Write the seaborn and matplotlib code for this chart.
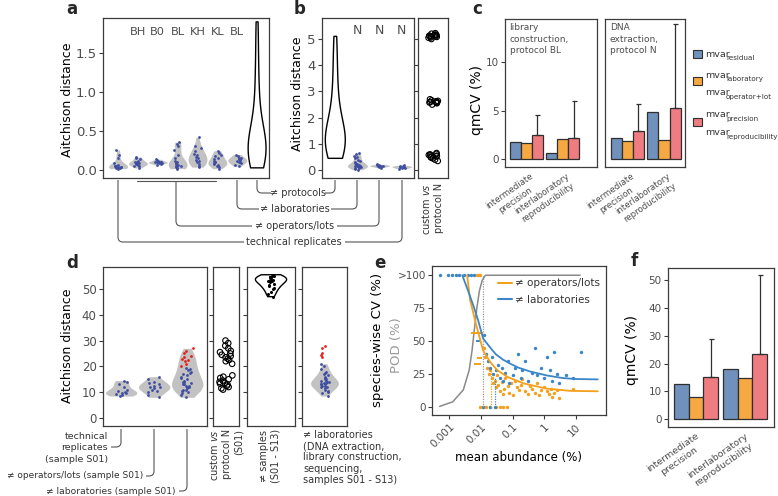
import numpy as np
import pandas as pd
import matplotlib
matplotlib.use("Agg")
import matplotlib.pyplot as plt
import matplotlib.transforms as mtransforms
import seaborn as sns
from matplotlib.path import Path
from matplotlib.patches import PathPatch, Rectangle
from matplotlib.lines import Line2D

# ---------------- data ----------------
# panel a : Aitchison distance (library construction)
a_order = ["tech", "BH", "B0", "BL", "KH", "KL", "BL_lab", "protocols"]
a_top_labels = ["", "BH", "B0", "BL", "KH", "KL", "BL", ""]
a_tech = [0.02, 0.03, 0.03, 0.04, 0.04, 0.04, 0.05, 0.05, 0.06, 0.07, 0.09, 0.16, 0.2, 0.26]
a_BH = [0.03, 0.05, 0.06, 0.07, 0.08, 0.08, 0.09, 0.09, 0.1, 0.11, 0.12, 0.14, 0.16, 0.17]
a_B0 = [0.07, 0.08, 0.09, 0.09, 0.1, 0.1, 0.1, 0.11, 0.11, 0.12, 0.13, 0.14]
a_BL = [0.02, 0.03, 0.04, 0.05, 0.05, 0.06, 0.07, 0.08, 0.09, 0.1, 0.12, 0.15, 0.19, 0.26, 0.31, 0.34, 0.36]
a_KH = [0.04, 0.06, 0.08, 0.1, 0.12, 0.13, 0.15, 0.17, 0.19, 0.21, 0.24, 0.28, 0.31, 0.42]
a_KL = [0.02, 0.04, 0.06, 0.07, 0.08, 0.09, 0.1, 0.11, 0.12, 0.14, 0.16, 0.18, 0.2, 0.22, 0.25]
a_BL_lab = [0.05, 0.07, 0.09, 0.1, 0.11, 0.12, 0.13, 0.14, 0.15, 0.16, 0.18, 0.2]
a_protocols = [0.03, 0.08, 0.12, 0.15, 0.18, 0.2, 0.22, 0.24, 0.26, 0.28, 0.3, 0.33, 0.36,
               0.4, 0.45, 0.5, 0.6, 0.75, 0.9, 1.1, 1.3, 1.6, 1.9]

# panel b : Aitchison distance (DNA extraction)
b_order = ["protocols", "labs_N", "ops_N", "tech_N"]
b_top_labels = ["", "N", "N", "N"]
b_protocols = [0.45, 0.6, 0.75, 0.85, 0.95, 1.0, 1.05, 1.1, 1.2, 1.3, 1.45, 1.6, 1.8, 2.1,
               2.5, 3.0, 3.6, 4.3, 5.1]
b_labs_N = [0.02, 0.05, 0.08, 0.1, 0.12, 0.13, 0.14, 0.15, 0.15, 0.16, 0.17, 0.18, 0.2, 0.22,
            0.25, 0.28, 0.3, 0.35, 0.4, 0.45, 0.5, 0.55, 0.6, 0.65]
b_ops_N = [0.1, 0.13, 0.15, 0.16, 0.17, 0.18, 0.2, 0.22]
b_tech_N = [0.05, 0.08, 0.1, 0.12, 0.13, 0.14, 0.16, 0.18]
custom_vs_N = [5.0, 5.05, 5.08, 5.1, 5.1, 5.12, 5.14, 5.15, 5.17, 5.2, 5.22, 5.12, 5.06,
               2.5, 2.55, 2.58, 2.6, 2.62, 2.64, 2.66, 2.7, 2.6, 2.57,
               0.35, 0.4, 0.45, 0.5, 0.52, 0.55, 0.58, 0.6, 0.62, 0.65, 0.48, 0.56]

# panel c : qmCV (%)
c_groups = ["intermediate\nprecision", "interlaboratory\nreproducibility"]
c_components = ["residual", "lab_oplot", "prec_repro"]
c_BL_residual = [1.8, 0.6]
c_BL_lab_oplot = [1.65, 2.1]
c_BL_prec_repro = [2.45, 2.2]
c_BL_upper = [4.5, 6.0]
c_N_residual = [2.15, 4.9]
c_N_lab_oplot = [1.85, 1.95]
c_N_prec_repro = [2.85, 5.3]
c_N_upper = [5.7, 13.9]

# panel d : Aitchison distance (mock / samples)
d_order = ["tech_S01", "ops_S01", "labs_S01"]
d_tech_S01 = [8.5, 9.0, 9.2, 9.5, 9.7, 10.0, 10.5, 11.0, 12.0, 13.0, 14.0, 14.5]
d_ops_S01 = [8.0, 9.0, 10.0, 10.5, 11.0, 11.5, 12.0, 12.0, 12.5, 13.0, 13.5, 14.0, 15.0, 16.0]
d_labs_S01 = [8.0, 9.0, 9.5, 10.0, 10.5, 11.0, 11.0, 11.5, 12.0, 12.0, 12.5, 12.5, 13.0, 13.0,
              13.5, 14.0, 14.0, 14.5, 15.0, 15.5, 16.0, 16.5, 17.0, 17.5, 18.0, 18.5, 19.0, 19.5]
d_labs_S01_out = [20.0, 21.0, 22.0, 22.5, 23.0, 23.5, 24.0, 25.0, 26.0, 27.0]
d_custom = [11.0, 11.5, 12.0, 12.5, 13.0, 13.3, 13.6, 14.0, 14.5, 15.0, 15.5, 16.0, 16.5,
            21.0, 22.0, 22.5, 23.0, 23.5, 24.0, 24.5, 25.0, 25.5, 26.0, 27.0, 28.0, 29.0, 30.0]
d_samples = [47.0, 48.0, 49.0, 50.0, 50.5, 51.0, 51.5, 52.0, 52.5, 53.0, 53.0, 53.5, 53.5,
             54.0, 54.0, 54.5, 54.5, 55.0, 55.0, 55.5]
d_labs_all = [8.5, 9.5, 10.0, 10.5, 11.0, 11.5, 12.0, 12.0, 12.5, 12.5, 13.0, 13.0, 13.0, 13.5,
              13.5, 14.0, 14.0, 14.5, 14.5, 15.0, 15.0, 15.5, 16.0, 16.5, 17.0, 17.5, 18.0,
              19.0, 20.0, 21.0]
d_labs_all_out = [23.5, 24.5, 25.0, 27.0, 28.0]

# panel e : species-wise CV vs mean abundance
e_ops_x = [0.0075, 0.0085, 0.0095, 0.013, 0.014, 0.016, 0.018, 0.02, 0.022, 0.025, 0.028, 0.03,
           0.033, 0.036, 0.04, 0.045, 0.05, 0.055, 0.06, 0.07, 0.08, 0.09, 0.1, 0.12, 0.14,
           0.16, 0.18, 0.2, 0.25, 0.3, 0.35, 0.4, 0.5, 0.6, 0.7, 0.8, 1.0, 1.2, 1.4, 1.6, 1.8,
           2.0, 2.5, 3.0, 8.0, 0.0095, 0.012, 0.015, 0.02, 0.03, 0.04, 0.05, 0.065]
e_ops_y = [100, 100, 100, 45, 38, 30, 25, 28, 22, 18, 20, 15, 24, 17, 12, 19, 10, 14, 22, 16,
           11, 18, 9, 20, 15, 13, 17, 21, 12, 10, 16, 14, 11, 18, 9, 13, 15, 12, 10, 14, 8, 11,
           13, 7, 14, 0, 0, 0, 0, 0, 0, 0, 0]
e_labs_x = [0.0005, 0.0009, 0.0012, 0.0016, 0.002, 0.003, 0.004, 0.005, 0.006, 0.013, 0.015,
            0.017, 0.02, 0.022, 0.025, 0.03, 0.035, 0.04, 0.045, 0.05, 0.06, 0.07, 0.08, 0.1,
            0.12, 0.15, 0.18, 0.2, 0.25, 0.3, 0.4, 0.5, 0.6, 0.8, 1.0, 1.2, 1.5, 1.8, 2.0, 2.5,
            3.0, 5.0, 8.0, 14.0, 0.012, 0.02, 0.028]
e_labs_y = [100, 100, 100, 100, 100, 100, 100, 100, 100, 55, 40, 35, 30, 38, 25, 28, 32, 22,
            30, 20, 26, 35, 18, 24, 30, 40, 22, 28, 35, 20, 26, 45, 24, 30, 22, 38, 28, 20, 42,
            25, 18, 24, 22, 42, 0, 0, 0]
e_ops_fit_x = [0.0037, 0.0046, 0.0076, 0.0118, 0.02, 0.033, 0.068, 0.22, 1.2, 6.7, 49]
e_ops_fit_y = [100, 81, 60, 43, 34, 28, 23, 18, 14, 12.3, 12]
e_labs_fit_x = [0.0026, 0.004, 0.006, 0.0082, 0.0118, 0.02, 0.03, 0.05, 0.084, 0.15, 0.36,
                1.2, 3.9, 10, 49]
e_labs_fit_y = [100, 88, 76, 66, 52, 45, 40, 36, 33, 30, 27, 24, 22, 21.3, 21]
e_pod_x = [0.0005, 0.0013, 0.0028, 0.0043, 0.0053, 0.0062, 0.0075, 0.009, 0.011, 0.014, 13.5]
e_pod_y = [0.5, 4, 13, 28, 43, 58, 75, 88, 96, 100, 100]
e_ops_seg_x0 = [0.0049, 0.0075, 0.0062]
e_ops_seg_x1 = [0.012, 0.011, 0.0098]
e_ops_seg_y = [56, 37, 33]
e_labs_seg_x0 = [0.0068]
e_labs_seg_x1 = [0.0105]
e_labs_seg_y = [50]
e_lod_x = [0.0115, 0.021, 0.028]
e_lod_top = [100, 28, 22]
e_xticks = [0.001, 0.01, 0.1, 1, 10]
e_xticklabels = ["0.001", "0.01", "0.1", "1", "10"]
e_yticks = [0, 25, 50, 75, 100]
e_yticklabels = ["0", "25", "50", "75", ">100"]

# panel f : qmCV (%)
f_residual = [12.7, 18.1]
f_lab_oplot = [8.1, 14.9]
f_prec_repro = [15.1, 23.5]
f_upper = [29.0, 52.0]

# ---------------- style ----------------
NAVY = "#3E4DA0"
VGREY = "#C2C2C2"
RED = "#E2231A"
EDGE = "#3C3C3C"
TICKC = "#4D4D4D"
TXT = "#333333"
BAR_COLORS = ["#7091BC", "#F6A843", "#EF7C80"]
ORANGE = "#F5A01A"
BLUE = "#3A86C8"

sns.set_theme(style="white")
plt.rcParams["font.family"] = ["DejaVu Sans"]
plt.rcParams["mathtext.fontset"] = "dejavusans"

W, H = 778, 496
fig = plt.figure(figsize=(W / 100, H / 100), dpi=100)


def add_ax(x0, y0, x1, y1):
    return fig.add_axes([x0 / W, 1 - y1 / H, (x1 - x0) / W, (y1 - y0) / H])


def style(ax, ylim, yticks, yticklabels=None, size=8, labels=True, xlim=None):
    ax.set_ylim(ylim)
    ax.set_yticks(yticks)
    if yticklabels is not None:
        ax.set_yticklabels(yticklabels)
    if xlim is not None:
        ax.set_xlim(xlim)
    for s in ax.spines.values():
        s.set_visible(True)
        s.set_color(EDGE)
        s.set_linewidth(0.9)
    ax.tick_params(axis="y", left=True, length=3, width=0.8, color=EDGE, labelsize=size,
                   labelcolor=TICKC, pad=1.5, labelleft=labels)
    ax.tick_params(axis="x", bottom=False, labelbottom=False)
    ax.set_xlabel("")
    ax.set_ylabel("")


def long_df(order, lists):
    return pd.DataFrame({"grp": sum([[g] * len(v) for g, v in zip(order, lists)], []),
                         "val": np.concatenate([np.asarray(v, float) for v in lists])})


def shift_labels(labels, dx_px, dy_px=0):
    off = mtransforms.ScaledTranslation(dx_px / 100, -dy_px / 100, fig.dpi_scale_trans)
    for lab in labels:
        lab.set_transform(lab.get_transform() + off)


# overlay for annotations (pixel coordinates)
ov = fig.add_axes([0, 0, 1, 1], zorder=5)
ov.set_xlim(0, W)
ov.set_ylim(H, 0)
ov.axis("off")


def rpath(pts, r=5, color="#555555", lw=0.8):
    pts = np.asarray(pts, float)
    verts = [pts[0]]
    codes = [Path.MOVETO]
    for i in range(1, len(pts) - 1):
        p0, p1, p2 = pts[i - 1], pts[i], pts[i + 1]
        d1 = (p1 - p0) / np.linalg.norm(p1 - p0)
        d2 = (p2 - p1) / np.linalg.norm(p2 - p1)
        verts += [p1 - d1 * r, p1, p1 + d2 * r]
        codes += [Path.LINETO, Path.CURVE3, Path.CURVE3]
    verts.append(pts[-1])
    codes.append(Path.LINETO)
    ov.add_patch(PathPatch(Path(verts, codes), fill=False, edgecolor=color, lw=lw))


np.random.seed(3)

# ---------------- panel a ----------------
ax = add_ax(103, 18, 269, 178)
a_vals = [a_tech, a_BH, a_B0, a_BL, a_KH, a_KL, a_BL_lab, a_protocols]
df_a = long_df(a_order, a_vals)
grey_a = df_a[df_a.grp != "protocols"]
sns.violinplot(data=grey_a, x="grp", y="val", order=a_order, color=VGREY, saturation=1,
               linewidth=0, inner=None, cut=0, density_norm="width", width=0.95, ax=ax)
sns.violinplot(data=df_a[df_a.grp == "protocols"], x="grp", y="val", order=a_order, fill=False,
               color="black", linecolor="black", linewidth=1, inner=None, cut=0, width=0.9, ax=ax)
sns.stripplot(data=grey_a, x="grp", y="val", order=a_order, color=NAVY, size=2, jitter=0.2, ax=ax)
style(ax, (-0.1, 1.95), [0, 0.5, 1, 1.5], ["0.0", "0.5", "1.0", "1.5"], size=9.5,
      xlim=(-0.76, 7.6))
for i, lab in enumerate(a_top_labels):
    ax.text(i, 1.77, lab, ha="center", va="center", fontsize=8.2, color=TICKC)

# ---------------- panel b ----------------
ax = add_ax(322, 18, 414, 178)
b_vals = [b_protocols, b_labs_N, b_ops_N, b_tech_N]
df_b = long_df(b_order, b_vals)
grey_b = df_b[df_b.grp != "protocols"]
sns.violinplot(data=grey_b, x="grp", y="val", order=b_order, color=VGREY, saturation=1,
               linewidth=0, inner=None, cut=0, density_norm="width", width=0.9, ax=ax)
sns.violinplot(data=df_b[df_b.grp == "protocols"], x="grp", y="val", order=b_order, fill=False,
               color="black", linecolor="black", linewidth=1, inner=None, cut=0, width=0.9, ax=ax)
sns.stripplot(data=grey_b, x="grp", y="val", order=b_order, color=NAVY, size=2, jitter=0.15, ax=ax)
style(ax, (-0.3, 5.8), [0, 1, 2, 3, 4, 5], size=9.5, xlim=(-0.6, 3.55))
for i, lab in enumerate(b_top_labels):
    ax.text(i, 5.34, lab, ha="center", va="center", fontsize=9, color=TICKC)

# custom vs protocol N (top)
ax = add_ax(418, 18, 448, 178)
sns.stripplot(x=np.zeros(len(custom_vs_N)), y=custom_vs_N, orient="v", facecolor="none",
              edgecolor="black", linewidth=0.8, size=4, jitter=0.17, ax=ax, native_scale=True)
style(ax, (-0.3, 5.8), [0, 1, 2, 3, 4, 5], labels=False, xlim=(-0.5, 0.5))


# ---------------- panel c ----------------
def bar_panel(ax, res, lab, prec, upper, ylim, yticks, size, labels=True, xlim=None,
              xsize=6.2, dx=0):
    df = pd.DataFrame({"grp": c_groups * 3,
                       "comp": sum([[c] * 2 for c in c_components], []),
                       "val": list(res) + list(lab) + list(prec)})
    sns.barplot(data=df, x="grp", y="val", hue="comp", hue_order=c_components,
                palette=BAR_COLORS, saturation=1, edgecolor="#2F2F2F", linewidth=0.9,
                errorbar=None, legend=False, width=0.9, ax=ax)
    red = ax.containers[2]
    xs = [p.get_x() + p.get_width() / 2 for p in red]
    ax.errorbar(xs, prec, yerr=[np.zeros(len(prec)), np.asarray(upper) - np.asarray(prec)],
                fmt="none", ecolor="#2F2F2F", elinewidth=0.9, capsize=1.8, capthick=0.9)
    style(ax, ylim, yticks, size=size, labels=labels, xlim=xlim)
    if not labels:
        ax.tick_params(axis="y", left=False)
    ax.set_xticks([0, 1])
    ax.set_xticklabels(c_groups, rotation=35, ha="right", va="center", rotation_mode="anchor",
                       fontsize=xsize, color=TICKC, multialignment="center")
    ax.tick_params(axis="x", bottom=False, labelbottom=True, pad=3)
    shift_labels(ax.get_xticklabels(), dx)


ax = add_ax(505, 19, 597, 167)
bar_panel(ax, c_BL_residual, c_BL_lab_oplot, c_BL_prec_repro, c_BL_upper, (-0.8, 14.4),
          [0, 5, 10], 7.5, xlim=(-0.6, 1.95), dx=9)
ax.text(0.05, 0.97, "library\nconstruction,\nprotocol BL", transform=ax.transAxes, ha="left",
        va="top", fontsize=6.5, color=TICKC, linespacing=1.35)
ax = add_ax(605, 19, 685, 167)
bar_panel(ax, c_N_residual, c_N_lab_oplot, c_N_prec_repro, c_N_upper, (-0.8, 14.4),
          [0, 5, 10], 7.5, labels=False, xlim=(-0.6, 1.57), dx=9)
ax.text(0.06, 0.97, "DNA\nextraction,\nprotocol N", transform=ax.transAxes, ha="left",
        va="top", fontsize=6.5, color=TICKC, linespacing=1.35)

# legend of c (patches + labels)
for (yc, col) in zip([53.5, 81, 122], BAR_COLORS):
    ov.add_patch(Rectangle((693, yc - 4), 9, 8, facecolor=col, edgecolor="#2F2F2F", lw=0.8))
for yb, sub in [(57, "residual"), (78, "laboratory"), (95, "operator+lot"),
                (117, "precision"), (135, "reproducibility")]:
    ov.text(705, yb, "mvar", fontsize=6.8, color=TXT, va="baseline")
    ov.text(726, yb + 3.5, sub, fontsize=5.1, color=TXT, va="baseline")

# ---------------- panel d ----------------
ax = add_ax(103, 267, 207, 426)
d_vals_v = [d_tech_S01, d_ops_S01, d_labs_S01 + d_labs_S01_out]
sns.violinplot(data=long_df(d_order, d_vals_v), x="grp", y="val", order=d_order, color=VGREY,
               saturation=1, linewidth=0, inner=None, cut=0, density_norm="width", width=0.95,
               ax=ax)
sns.stripplot(data=long_df(d_order, [d_tech_S01, d_ops_S01, d_labs_S01]), x="grp", y="val",
              order=d_order, color=NAVY, size=2, jitter=0.2, ax=ax)
sns.stripplot(data=long_df(["labs_S01"], [d_labs_S01_out]), x="grp", y="val", order=d_order,
              color=RED, size=2, jitter=0.2, ax=ax)
style(ax, (-3.1, 58.5), [0, 10, 20, 30, 40, 50], size=8.5, xlim=(-0.55, 2.6))

ax = add_ax(213, 267, 239, 426)
sns.stripplot(x=np.zeros(len(d_custom)), y=d_custom, facecolor="none", edgecolor="black",
              linewidth=0.8, size=4, jitter=0.25, ax=ax, native_scale=True)
style(ax, (-3.1, 58.5), [0, 10, 20, 30, 40, 50], labels=False, xlim=(-0.5, 0.5))

ax = add_ax(247, 267, 295, 426)
sns.violinplot(x=np.zeros(len(d_samples)), y=d_samples, fill=False, color="black",
               linecolor="black", linewidth=1, inner=None, cut=0, width=0.65, ax=ax,
               native_scale=True)
sns.stripplot(x=np.zeros(len(d_samples)), y=d_samples, color="black", size=2.2, jitter=0.07,
              ax=ax, native_scale=True)
style(ax, (-3.1, 58.5), [0, 10, 20, 30, 40, 50], labels=False, xlim=(-0.5, 0.5))

ax = add_ax(302, 267, 347, 426)
sns.violinplot(x=np.zeros(len(d_labs_all)), y=d_labs_all, color=VGREY, saturation=1, linewidth=0,
               inner=None, cut=0, width=0.62, ax=ax, native_scale=True)
sns.stripplot(x=np.zeros(len(d_labs_all)), y=d_labs_all, color=NAVY, size=2, jitter=0.1, ax=ax,
              native_scale=True)
sns.stripplot(x=np.zeros(len(d_labs_all_out)), y=d_labs_all_out, color=RED, size=2, jitter=0.08,
              ax=ax, native_scale=True)
style(ax, (-3.1, 58.5), [0, 10, 20, 30, 40, 50], labels=False, xlim=(-0.5, 0.5))

# ---------------- panel e ----------------
ax = add_ax(432, 266, 606, 415)
ax.set_xscale("log")
for x, top, col in zip(e_lod_x, e_lod_top, ["#9A9A9A", ORANGE, BLUE]):
    ax.vlines(x, 0, top, colors=col, linestyles=(0, (1, 1)), lw=0.9)
sns.lineplot(x=e_pod_x, y=e_pod_y, color="#8A8A8A", lw=1.1, ax=ax)
sns.scatterplot(x=e_ops_x, y=e_ops_y, color=ORANGE, s=6, linewidth=0, ax=ax)
sns.scatterplot(x=e_labs_x, y=e_labs_y, color=BLUE, s=6, linewidth=0, ax=ax)
ax.hlines(e_ops_seg_y, e_ops_seg_x0, e_ops_seg_x1, colors=ORANGE, lw=1.4)
ax.hlines(e_labs_seg_y, e_labs_seg_x0, e_labs_seg_x1, colors=BLUE, lw=1.4)
sns.lineplot(x=e_ops_fit_x, y=e_ops_fit_y, color=ORANGE, lw=1.3, ax=ax)
sns.lineplot(x=e_labs_fit_x, y=e_labs_fit_y, color=BLUE, lw=1.3, ax=ax)
style(ax, (-6, 107), e_yticks, e_yticklabels, size=7.5, xlim=(10 ** -3.54, 10 ** 1.95))
ax.set_xticks(e_xticks)
ax.set_xticklabels(e_xticklabels, rotation=45, ha="right", va="top", rotation_mode="anchor",
                   fontsize=7.5, color=TICKC)
ax.xaxis.set_minor_locator(matplotlib.ticker.NullLocator())
ax.tick_params(axis="x", bottom=True, labelbottom=True, length=3, width=0.8, color=EDGE, pad=2)
handles = [Line2D([], [], color=ORANGE, lw=1.5), Line2D([], [], color=BLUE, lw=1.5)]
ax.legend(handles, ["\u2260 operators/lots", "\u2260 laboratories"], loc="upper right",
          bbox_to_anchor=(1.02, 0.98), frameon=False, fontsize=7.5, handlelength=1.3,
          handletextpad=0.3, labelspacing=0.6, labelcolor=TXT)
ov.text(519, 457, "mean abundance (%)", ha="center", va="center", fontsize=8.5, color="black")

# ---------------- panel f ----------------
ax = add_ax(668, 268, 774, 427)
bar_panel(ax, f_residual, f_lab_oplot, f_prec_repro, f_upper, (-2.9, 54.5),
          [0, 10, 20, 30, 40, 50], 7.5, xlim=(-0.57, 1.59), xsize=6.8, dx=5)

# ---------------- axis titles ----------------
ov.text(68, 100, "Aitchison distance", rotation=90, ha="center", va="center", fontsize=9,
        color="black")
ov.text(298, 94, "Aitchison distance", rotation=90, ha="center", va="center", fontsize=9,
        color="black")
ov.text(68, 346, "Aitchison distance", rotation=90, ha="center", va="center", fontsize=9,
        color="black")
ov.text(477, 100, "qmCV (%)", rotation=90, ha="center", va="center", fontsize=10, color="black")
ov.text(632, 350, "qmCV (%)", rotation=90, ha="center", va="center", fontsize=10, color="black")
ov.text(378, 340, "species-wise CV (%)", rotation=90, ha="center", va="center", fontsize=9.5,
        color="black")
ov.text(397, 345, "POD (%)", rotation=90, ha="center", va="center", fontsize=9.5,
        color="#9A9A9A")

# panel letters
for lab, (x, y) in {"a": (72, 9), "b": (300, 9), "c": (477, 9), "d": (72, 263),
                    "e": (380, 263), "f": (634, 261)}.items():
    ov.text(x, y, lab, ha="center", va="center", fontsize=12, fontweight="bold")

# rotated category labels under thin panels
ov.text(432, 183, "custom $\\it{vs}$\nprotocol N", rotation=90, ha="center", va="top",
        fontsize=7, color=TXT, multialignment="right")
ov.text(226, 429, "custom $\\it{vs}$\nprotocol N\n(S01)", rotation=90, ha="center", va="top",
        fontsize=7, color=TXT, multialignment="right")
ov.text(270, 429, "\u2260 samples\n(S01 - S13)", rotation=90, ha="center", va="top",
        fontsize=7, color=TXT, multialignment="center")
ov.text(303, 430, "\u2260 laboratories\n(DNA extraction,\nlibrary construction,\nsequencing,\nsamples S01 - S13)",
        ha="left", va="top", fontsize=7, color=TXT, linespacing=1.15)

# brackets, top row
rpath([(257, 180), (257, 193), (271, 193)])
rpath([(325, 193), (335, 193), (335, 180)])
ov.text(298, 193, "\u2260 protocols", ha="center", va="center", fontsize=7, color=TXT)
rpath([(237, 180), (237, 209), (259, 209)])
rpath([(331, 209), (357, 209), (357, 180)])
ov.text(295, 209, "\u2260 laboratories", ha="center", va="center", fontsize=7, color=TXT)
ov.plot([137, 216], [181, 181], color="#555555", lw=0.8)
rpath([(176, 181), (176, 226), (252, 226)])
rpath([(337, 226), (379, 226), (379, 180)])
ov.text(295, 226, "\u2260 operators/lots", ha="center", va="center", fontsize=7, color=TXT)
rpath([(118, 180), (118, 242), (244, 242)])
rpath([(345, 242), (402, 242), (402, 180)])
ov.text(294, 242, "technical replicates", ha="center", va="center", fontsize=7, color=TXT)

# brackets, bottom row
rpath([(121, 429), (121, 447), (111, 447)])
ov.text(108, 448, "technical\nreplicates\n(sample S01)", ha="right", va="center", fontsize=6.8,
        color=TXT, multialignment="right", linespacing=1.3)
rpath([(154, 429), (154, 476), (146, 476)])
ov.text(143, 476, "\u2260 operators/lots (sample S01)", ha="right", va="center", fontsize=6.5,
        color=TXT)
rpath([(187, 429), (187, 491), (179, 491)])
ov.text(176, 491, "\u2260 laboratories (sample S01)", ha="right", va="center", fontsize=6.6,
        color=TXT)

fig.savefig("out.png", dpi=100)
